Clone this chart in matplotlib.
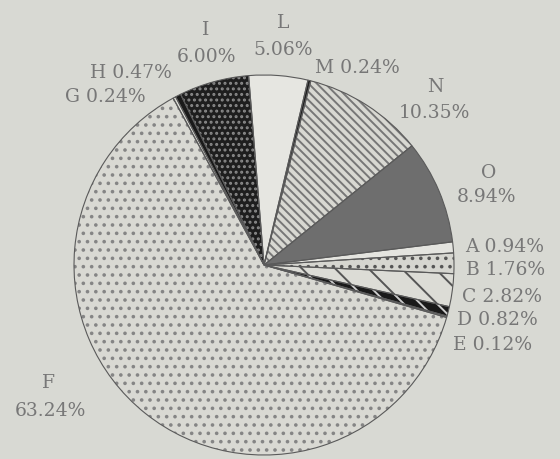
#   Pie chart of percentage shares, letters A..O
#Python imports
#----------------
import matplotlib
matplotlib.use("Agg")
import matplotlib.pyplot as plt
#----------------

#********************************
#   DATA
#********************************
labels = ["A", "B", "C", "D", "E", "F", "G", "H", "I", "L", "M", "N", "O"]
shares = [0.94, 1.76, 2.82, 0.82, 0.12, 63.24, 0.24, 0.47, 6.00, 5.06, 0.24, 10.35, 8.94]

faces = ["#e4e4df", "#d6d6d0", "#dcdcd6", "#1a1a1a", "#dcdcd6", "#d9d9d3", "#dcdcd6",
         "#1a1a1a", "#1e1e1e", "#e6e6e1", "#202020", "#d8d8d2", "#6e6e6e"]
hatches = [None, "..", "\\", "\\\\", None, "..", None, None, "...", None, None, "\\\\\\\\", None]
hatch_cols = ["#555555", "#555555", "#555555", "#cccccc", "#555555", "#858585", "#555555",
              "#555555", "#8a8a8a", "#555555", "#555555", "#777777", "#555555"]

# label position (pixel coords from top-left)
label_pos = {
    "I": (206, 30, 206, 57),
    "L": (283, 23, 283, 50),
    "N": (435, 87, 434, 113),
    "O": (489, 173, 487, 197),
    "F": (48, 383, 50, 411),
}
side_pos = {
    "M": (315, 68), "H": (90, 73), "G": (65, 97),
    "A": (465, 247), "B": (466, 270), "C": (462, 297), "D": (457, 320), "E": (453, 345),
}

#-------------------------------
# MAIN
#-------------------------------
W, H = 560, 459
plt.rcParams['hatch.linewidth'] = 1.4
bg = "#d8d9d3"
txtcol = "#777777"
font = dict(family="DejaVu Serif", fontsize=13.5, color=txtcol)

fig = plt.figure(figsize=(W / 100, H / 100), dpi=100, facecolor=bg)
ax = fig.add_axes([0, 0, 1, 1])
ax.set_facecolor(bg)

cx, cy, r = 264, H - 265, 190
start = 7

wedges, _ = ax.pie(shares, colors=faces, startangle=start, counterclock=False,
                   center=(cx, cy), radius=r, wedgeprops=dict(linewidth=0))
for w, h, hc in zip(wedges, hatches, hatch_cols):
    w.set_edgecolor(hc)
    if h:
        w.set_hatch(h)

# outlines
ax.pie(shares, startangle=start, counterclock=False, center=(cx, cy), radius=r,
       wedgeprops=dict(fill=False, edgecolor="#5a5a5a", linewidth=0.8))

for i, lab in enumerate(labels):
    pct = "%.2f%%" % shares[i]
    if lab in label_pos:
        x1, y1, x2, y2 = label_pos[lab]
        ax.text(x1, H - y1, lab, ha="center", va="center", **font)
        ax.text(x2, H - y2, pct, ha="center", va="center", **font)
    else:
        x, y = side_pos[lab]
        ax.text(x, H - y, lab + " " + pct, ha="left", va="center", **font)

ax.set_xlim(0, W)
ax.set_ylim(0, H)
ax.set_aspect("equal")
ax.axis("off")

fig.savefig("out.png", dpi=100, facecolor=bg)
